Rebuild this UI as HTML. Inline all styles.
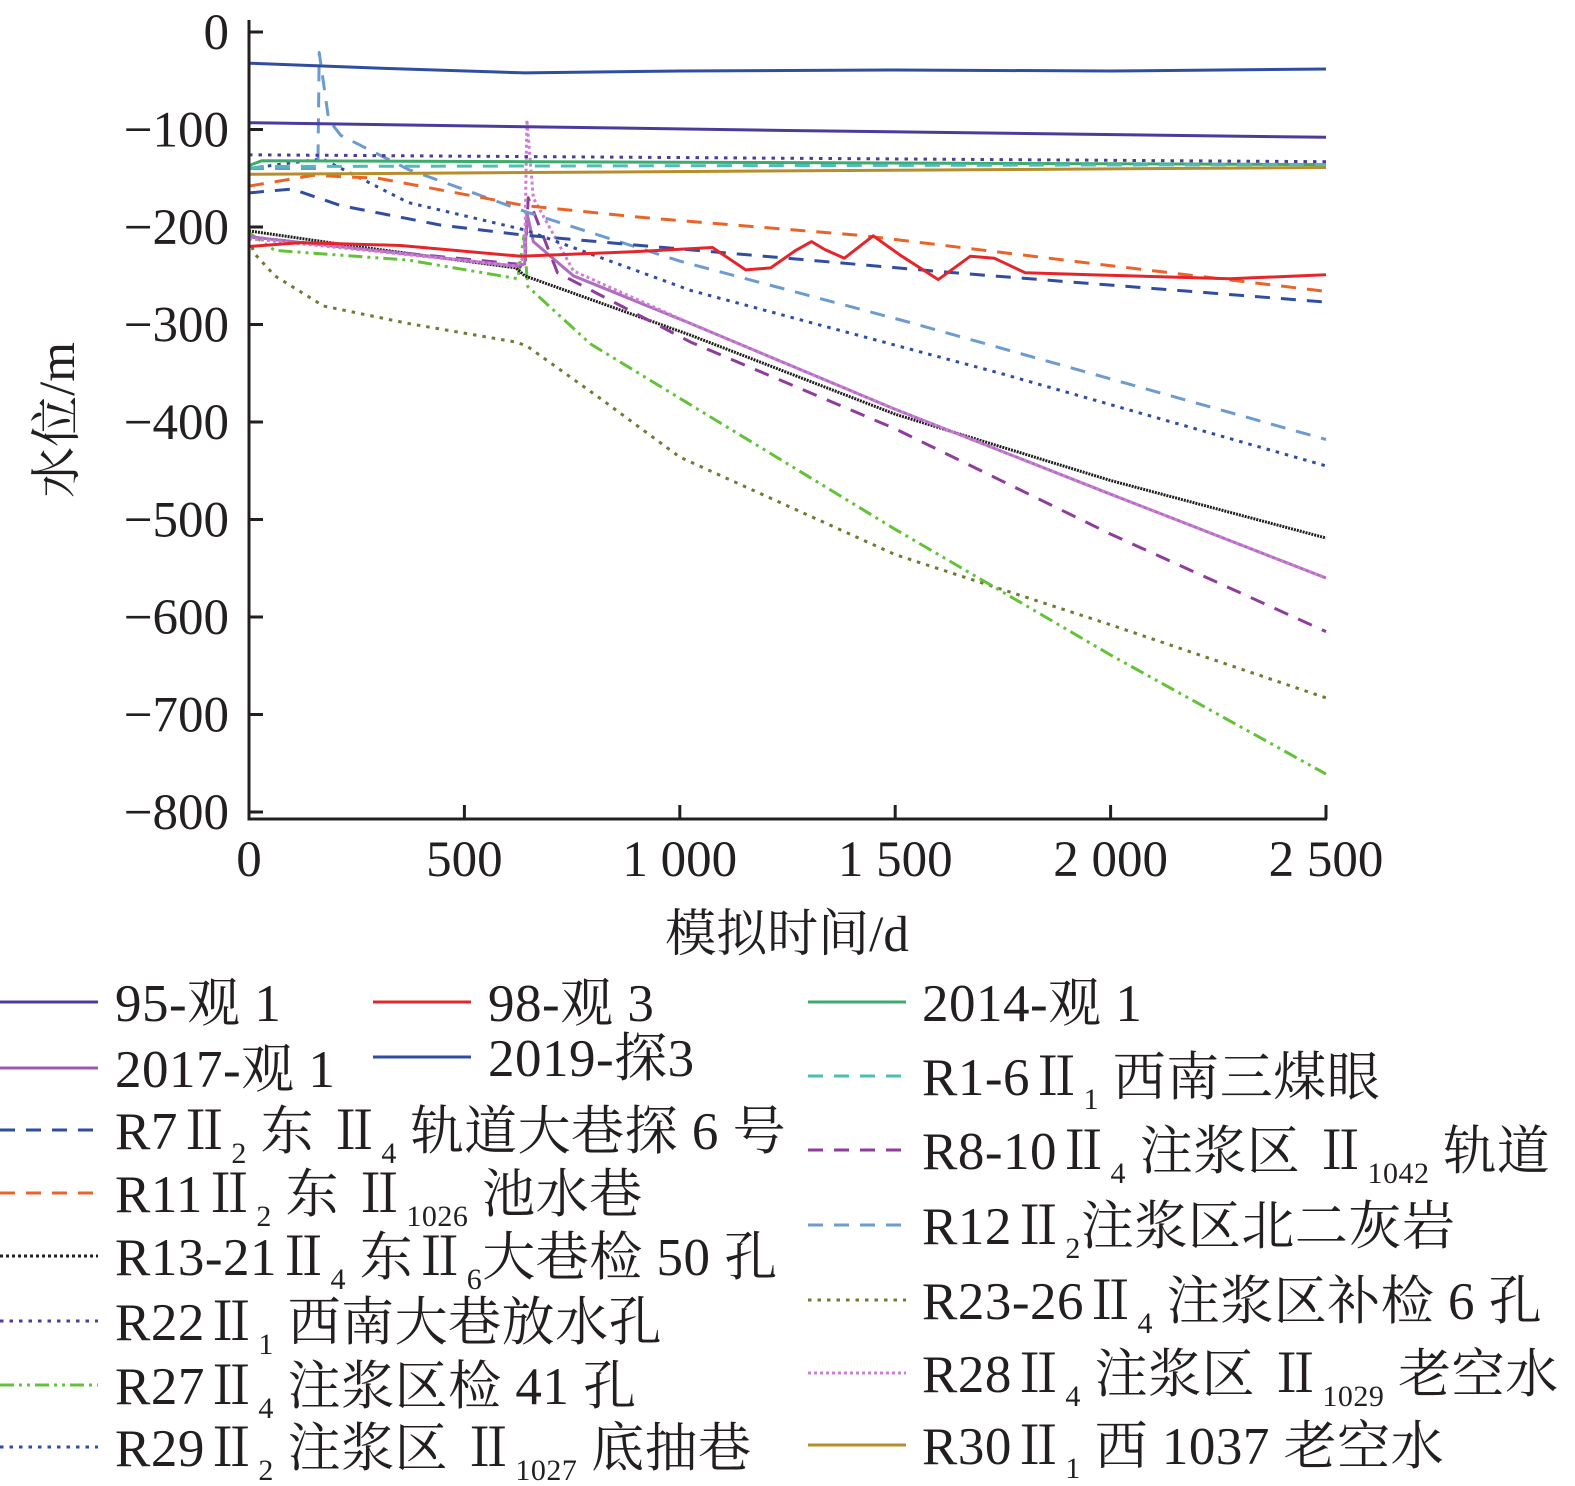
<!DOCTYPE html>
<html><head><meta charset="utf-8"><style>
html,body{margin:0;padding:0;background:#fff;}
svg{display:block;}
text{font-family:"Liberation Serif","Noto Serif CJK SC",serif;fill:#231f20;}
.lg{font-size:53px;letter-spacing:0.5px;}
.tk{font-size:51px;}
</style></head><body>
<svg id="chart" width="1575" height="1486" viewBox="0 0 1575 1486" xmlns="http://www.w3.org/2000/svg" font-family="Liberation Serif, Noto Serif CJK SC, serif">
<g id="plot"></g>
<g id="axes"></g>
<g id="legend"></g>
</svg>
<script>
const xTicks = [0, 500, 1000, 1500, 2000, 2500];
const xTickLabels = ["0", "500", "1 000", "1 500", "2 000", "2 500"];
const yTicks = [0, -100, -200, -300, -400, -500, -600, -700, -800];
const yTickLabels = ["0", "\u2212100", "\u2212200", "\u2212300", "\u2212400", "\u2212500", "\u2212600", "\u2212700", "\u2212800"];

const t_95 = [0, 1250, 2500];
const v_95 = [-93, -101, -108];
const t_98 = [0, 121, 352, 631, 909, 1076, 1153, 1211, 1269, 1306, 1336, 1382, 1449, 1512, 1600, 1674, 1730, 1802, 1953, 2277, 2500];
const v_98 = [-220, -216, -219, -230, -225, -221, -244, -242, -224, -215, -223, -232, -209, -229, -254, -230, -232, -247, -249, -253, -249];
const t_2014 = [0, 30, 2500];
const v_2014 = [-137, -132, -136];
const t_2017 = [0, 250, 620, 640, 645, 660, 753, 1025, 1500, 2000, 2500];
const v_2017 = [-210, -222, -240, -238, -185, -215, -250, -299, -387, -474, -560];
const t_2019 = [0, 300, 640, 1000, 1500, 2000, 2500];
const v_2019 = [-32, -37, -42, -40, -39, -40, -38];
const t_r1 = [0, 30, 2500];
const v_r1 = [-140, -138, -136];
const t_r7 = [0, 100, 213, 445, 631, 909, 1637, 2500];
const v_r7 = [-165, -161, -178, -198, -208, -219, -247, -277];
const t_r8 = [0, 250, 620, 640, 648, 716, 1025, 1500, 2000, 2500];
const v_r8 = [-210, -222, -238, -243, -170, -247, -318, -407, -515, -615];
const t_r11 = [0, 150, 300, 640, 909, 1430, 1950, 2500];
const v_r11 = [-158, -147, -150, -178, -190, -209, -237, -266];
const t_r12 = [0, 160, 163, 185, 213, 370, 640, 1000, 1535, 2500];
const v_r12 = [-140, -140, -21, -90, -106, -141, -184, -235, -298, -418];
const t_r13 = [0, 250, 620, 640, 1025, 1500, 2000, 2500];
const v_r13 = [-204, -220, -242, -250, -311, -392, -460, -519];
const t_r22 = [0, 2500];
const v_r22 = [-126, -133];
const t_r23 = [0, 12, 60, 173, 370, 620, 645, 816, 1000, 1500, 2000, 2500];
const v_r23 = [-211, -227, -250, -281, -299, -318, -322, -376, -436, -536, -608, -683];
const t_r27 = [0, 60, 370, 624, 638, 647, 793, 1500, 2000, 2500];
const v_r27 = [-206, -224, -234, -253, -209, -261, -320, -510, -639, -761];
const t_r28 = [0, 250, 620, 640, 645, 660, 753, 1025, 1500, 2000, 2500];
const v_r28 = [-212, -223, -240, -230, -90, -170, -245, -299, -387, -474, -560];
const t_r29 = [0, 170, 370, 640, 1025, 1744, 2500];
const v_r29 = [-140, -130, -175, -203, -265, -350, -445];
const t_r30 = [0, 2500];
const v_r30 = [-146, -139];

const NS = "http://www.w3.org/2000/svg";
const X0 = 249, X1 = 1326, Y0 = 32, Y800 = 812;
function sx(t){ return X0 + t / 2500 * (X1 - X0); }
function sy(v){ return Y0 + (-v) / 800 * (Y800 - Y0); }
function mk(tag, attrs, parent){
  const e = document.createElementNS(NS, tag);
  for (const k in attrs) e.setAttribute(k, attrs[k]);
  parent.appendChild(e);
  return e;
}
const DASH = "15,11", DOT = "3.5,6", DDOT = "14,5,3,5,3,5", FDOT = "3,3";
const series = [
  ["series-r23-26", t_r23, v_r23, "#6e7b32", DOT],
  ["series-r27", t_r27, v_r27, "#63c238", DDOT],
  ["series-r13-21", t_r13, v_r13, "#231f20", "2,1"],
  ["series-r8-10", t_r8, v_r8, "#8f3c9d", DASH],
  ["series-2017-obs1", t_2017, v_2017, "#b06cc0", ""],
  ["series-r28", t_r28, v_r28, "#cc7fd4", FDOT],
  ["series-r29", t_r29, v_r29, "#2f4ea1", DOT],
  ["series-r12", t_r12, v_r12, "#6c9bd0", DASH],
  ["series-r7", t_r7, v_r7, "#2f4ea1", DASH],
  ["series-r11", t_r11, v_r11, "#ea6428", DASH],
  ["series-98-obs3", t_98, v_98, "#e4262b", ""],
  ["series-r30", t_r30, v_r30, "#b88d2c", ""],
  ["series-2014-obs1", t_2014, v_2014, "#3cab6c", ""],
  ["series-r1-6", t_r1, v_r1, "#4cbcb6", DASH],
  ["series-r22", t_r22, v_r22, "#4b3c9c", DOT],
  ["series-95-obs1", t_95, v_95, "#4b3c9c", ""],
  ["series-2019-probe3", t_2019, v_2019, "#2f4ea1", ""]
];
const plot = document.getElementById("plot");
series.forEach(s => {
  const pts = s[1].map((t, i) => sx(t).toFixed(1) + "," + sy(s[2][i]).toFixed(1)).join(" ");
  const a = {points: pts, fill: "none", stroke: s[3], "stroke-width": 3, "stroke-linejoin": "round"};
  if (s[4]) a["stroke-dasharray"] = s[4];
  const el = mk("polyline", a, plot);
  
  
});

const axes = document.getElementById("axes");
let e = mk("line", {x1: X0, y1: 20, x2: X0, y2: 820, stroke: "#231f20", "stroke-width": 3}, axes);


e = mk("line", {x1: X0 - 1.5, y1: 819, x2: X1 + 1, y2: 819, stroke: "#231f20", "stroke-width": 3}, axes);


yTicks.forEach((v, i) => {
  const tk = mk("line", {x1: X0, y1: sy(v), x2: X0 + 14, y2: sy(v), stroke: "#231f20", "stroke-width": 3}, axes);
  
  
  const tx = mk("text", {x: 229, y: sy(v) + 17, "text-anchor": "end", class: "tk"}, axes);
  tx.textContent = yTickLabels[i];
  
  
});
xTicks.forEach((t, i) => {
  const tk = mk("line", {x1: sx(t), y1: 819, x2: sx(t), y2: 805, stroke: "#231f20", "stroke-width": 3}, axes);
  
  
  const tx = mk("text", {x: sx(t), y: 876, "text-anchor": "middle", class: "tk"}, axes);
  tx.textContent = xTickLabels[i];
  
  
});
e = mk("text", {x: 787, y: 951, "text-anchor": "middle", class: "tk"}, axes);
e.textContent = "模拟时间/d";


e = mk("text", {x: 0, y: 0, "text-anchor": "middle", class: "tk", transform: "translate(74,420) rotate(-90)"}, axes);
e.textContent = "水位/m";



const legendItems = [
  ["legend-95-obs1", 0, 115, 1002, "#4b3c9c", "", [["95-观 1"]]],
  ["legend-98-obs3", 373, 488, 1002, "#e4262b", "", [["98-观 3"]]],
  ["legend-2014-obs1", 808, 922, 1002, "#3cab6c", "", [["2014-观 1"]]],
  ["legend-2017-obs1", 0, 115, 1068, "#a056b6", "", [["2017-观 1"]]],
  ["legend-2019-probe3", 373, 488, 1057, "#2f4ea1", "", [["2019-探3"]]],
  ["legend-r1-6", 808, 922, 1076, "#4cbcb6", DASH, [["R1-6Ⅱ"],["1",1],[" 西南三煤眼"]]],
  ["legend-r7", 0, 115, 1130, "#2f4ea1", DASH, [["R7Ⅱ"],["2",1],[" 东  Ⅱ"],["4",1],[" 轨道大巷探 6 号"]]],
  ["legend-r8-10", 808, 922, 1150, "#8f3c9d", DASH, [["R8-10Ⅱ"],["4",1],[" 注浆区  Ⅱ"],["1042",1],[" 轨道"]]],
  ["legend-r11", 0, 115, 1193, "#ea6428", DASH, [["R11Ⅱ"],["2",1],[" 东  Ⅱ"],["1026",1],[" 池水巷"]]],
  ["legend-r12", 808, 922, 1225, "#6c9bd0", DASH, [["R12Ⅱ"],["2",1],["注浆区北二灰岩"]]],
  ["legend-r13-21", 0, 115, 1256, "#231f20", FDOT, [["R13-21Ⅱ"],["4",1],[" 东Ⅱ"],["6",1],["大巷检 50 孔"]]],
  ["legend-r23-26", 808, 922, 1300, "#6e7b32", DOT, [["R23-26Ⅱ"],["4",1],[" 注浆区补检 6 孔"]]],
  ["legend-r22", 0, 115, 1321, "#4b3c9c", DOT, [["R22Ⅱ"],["1",1],[" 西南大巷放水孔"]]],
  ["legend-r28", 808, 922, 1373, "#cc7fd4", FDOT, [["R28Ⅱ"],["4",1],[" 注浆区  Ⅱ"],["1029",1],[" 老空水"]]],
  ["legend-r27", 0, 115, 1385, "#63c238", DDOT, [["R27Ⅱ"],["4",1],[" 注浆区检 41 孔"]]],
  ["legend-r29", 0, 115, 1447, "#2f4ea1", DOT, [["R29Ⅱ"],["2",1],[" 注浆区  Ⅱ"],["1027",1],[" 底抽巷"]]],
  ["legend-r30", 808, 922, 1445, "#b88d2c", "", [["R30Ⅱ"],["1",1],[" 西 1037 老空水"]]]
];
const lg = document.getElementById("legend");
legendItems.forEach(it => {
  const g = mk("g", {}, lg);
  
  
  const la = {x1: it[1], y1: it[3], x2: it[1] + 98, y2: it[3], stroke: it[4], "stroke-width": 3};
  if (it[5]) la["stroke-dasharray"] = it[5];
  const ln = mk("line", la, g);
  
  
  const tx = mk("text", {x: it[2], y: it[3] + 19, class: "lg", "xml:space": "preserve"}, g);
  
  
  it[6].forEach(p => {
    const sp = document.createElementNS(NS, "tspan");
    if (p[1]) { sp.setAttribute("font-size", "30"); sp.setAttribute("dy", "14"); }
    else if (tx.childNodes.length && tx.lastChild.getAttribute("dy") === "14") { sp.setAttribute("dy", "-14"); }
    sp.textContent = p[0];
    tx.appendChild(sp);
  });
});
</script>
</body></html>
